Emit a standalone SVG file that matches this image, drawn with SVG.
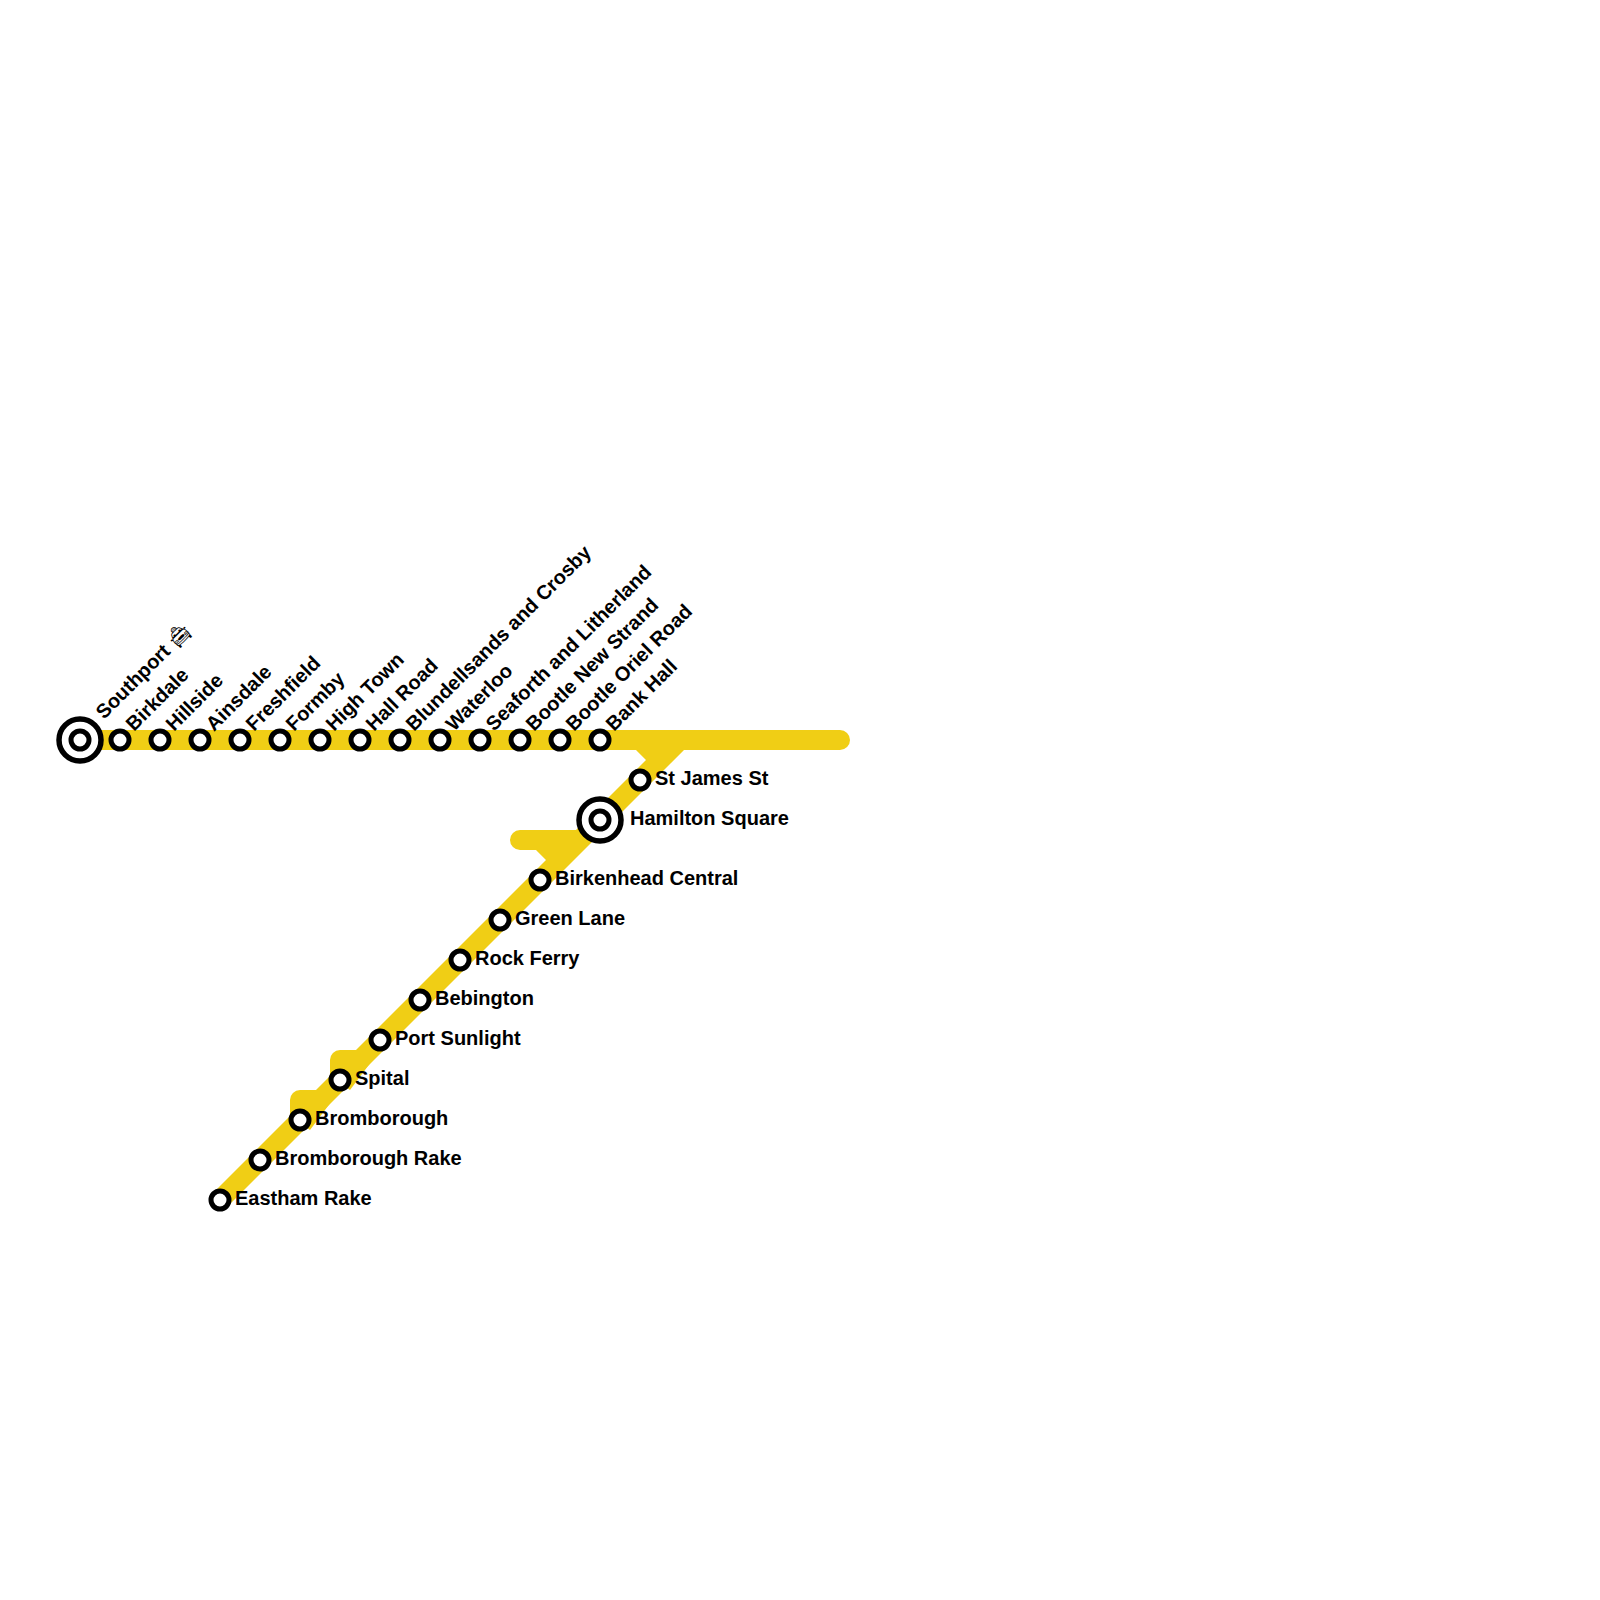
<svg xmlns="http://www.w3.org/2000/svg" width="1600" height="1600" viewBox="0 0 1600 1600">
<style>
.line{fill:none;stroke:#f0ce15;stroke-width:20;stroke-linecap:round;stroke-linejoin:round}
.fill{fill:#f0ce15;stroke:none}
.st{fill:#fff;stroke:#000;stroke-width:5}
.ic{fill:#fff;stroke:#000;stroke-width:5.5}
text{font-family:"Liberation Sans",Arial,"DejaVu Sans",sans-serif;font-size:20px;font-weight:700;fill:#000}
.emo{font-family:"DejaVu Sans",sans-serif;font-weight:400;font-variant-emoji:text}
</style>
<rect width="1600" height="1600" fill="#fff"/>
<g id="connectors">
<path class="line" d="M80 740H840"/>
<path class="fill" d="M684 750L227 1207L213 1193L646 760L636 750Z"/>
<path class="fill" d="M520 830H604L560 870L546 860L536 850H520A10 10 0 0 1 520 830Z"/>
<path class="fill" d="M330 1076V1060A10 10 0 0 1 340 1050H356L380 1050L350 1090Z"/>
<path class="fill" d="M290 1116V1100A10 10 0 0 1 300 1090H316L340 1090L310 1130Z"/>
</g>
<g id="s-southport"><circle class="ic" cx="80" cy="740" r="21"/><circle class="st" cx="80" cy="740" r="9"/><text transform="translate(104 720) rotate(-45)">Southport <tspan class="emo">🚖︎</tspan></text></g>
<g id="s-birkdale"><circle class="st" cx="120" cy="740" r="9"/><text transform="translate(134 732) rotate(-45)">Birkdale</text></g>
<g id="s-hillside"><circle class="st" cx="160" cy="740" r="9"/><text transform="translate(174 732) rotate(-45)">Hillside</text></g>
<g id="s-ainsdale"><circle class="st" cx="200" cy="740" r="9"/><text transform="translate(214 732) rotate(-45)">Ainsdale</text></g>
<g id="s-freshfield"><circle class="st" cx="240" cy="740" r="9"/><text transform="translate(254 732) rotate(-45)">Freshfield</text></g>
<g id="s-formby"><circle class="st" cx="280" cy="740" r="9"/><text transform="translate(294 732) rotate(-45)">Formby</text></g>
<g id="s-hightown"><circle class="st" cx="320" cy="740" r="9"/><text transform="translate(334 732) rotate(-45)">High Town</text></g>
<g id="s-hallroad"><circle class="st" cx="360" cy="740" r="9"/><text transform="translate(374 732) rotate(-45)">Hall Road</text></g>
<g id="s-blundellsands"><circle class="st" cx="400" cy="740" r="9"/><text transform="translate(414 732) rotate(-45)">Blundellsands and Crosby</text></g>
<g id="s-waterloo"><circle class="st" cx="440" cy="740" r="9"/><text transform="translate(454 732) rotate(-45)">Waterloo</text></g>
<g id="s-seaforth"><circle class="st" cx="480" cy="740" r="9"/><text transform="translate(494 732) rotate(-45)">Seaforth and Litherland</text></g>
<g id="s-bootlenew"><circle class="st" cx="520" cy="740" r="9"/><text transform="translate(534 732) rotate(-45)">Bootle New Strand</text></g>
<g id="s-bootleoriel"><circle class="st" cx="560" cy="740" r="9"/><text transform="translate(574 732) rotate(-45)">Bootle Oriel Road</text></g>
<g id="s-bankhall"><circle class="st" cx="600" cy="740" r="9"/><text transform="translate(614 732) rotate(-45)">Bank Hall</text></g>
<g id="s-stjames"><circle class="st" cx="640" cy="780" r="9"/><text x="655" y="785">St James St</text></g>
<g id="s-hamilton"><circle class="ic" cx="600" cy="820" r="21"/><circle class="st" cx="600" cy="820" r="9"/><text x="630" y="825">Hamilton Square</text></g>
<g id="s-birkenhead"><circle class="st" cx="540" cy="880" r="9"/><text x="555" y="885">Birkenhead Central</text></g>
<g id="s-greenlane"><circle class="st" cx="500" cy="920" r="9"/><text x="515" y="925">Green Lane</text></g>
<g id="s-rockferry"><circle class="st" cx="460" cy="960" r="9"/><text x="475" y="965">Rock Ferry</text></g>
<g id="s-bebington"><circle class="st" cx="420" cy="1000" r="9"/><text x="435" y="1005">Bebington</text></g>
<g id="s-portsunlight"><circle class="st" cx="380" cy="1040" r="9"/><text x="395" y="1045">Port Sunlight</text></g>
<g id="s-spital"><circle class="st" cx="340" cy="1080" r="9"/><text x="355" y="1085">Spital</text></g>
<g id="s-bromborough"><circle class="st" cx="300" cy="1120" r="9"/><text x="315" y="1125">Bromborough</text></g>
<g id="s-bromboroughrake"><circle class="st" cx="260" cy="1160" r="9"/><text x="275" y="1165">Bromborough Rake</text></g>
<g id="s-eastham"><circle class="st" cx="220" cy="1200" r="9"/><text x="235" y="1205">Eastham Rake</text></g>
</svg>
